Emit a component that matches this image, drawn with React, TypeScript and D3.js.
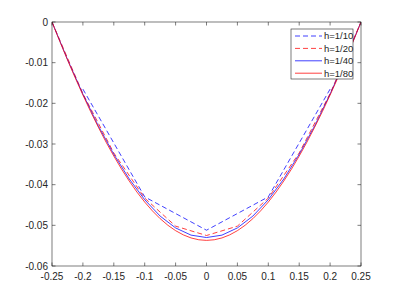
import * as d3 from 'd3'

const W = 399
const H = 299
const M = { top: 22, right: 38, bottom: 33, left: 52 }

// grid points for each mesh
const x10 = [-0.2, -0.1, 0, 0.1, 0.2]
const y10 = [-0.0165, -0.043, -0.0512, -0.043, -0.0165]

const x20 = [-0.25, -0.2, -0.15, -0.1, -0.05, 0, 0.05, 0.1, 0.15, 0.2, 0.25]
const y20 = [0, -0.0176, -0.0322, -0.0433, -0.0502, -0.0525, -0.0502, -0.0433, -0.0322, -0.0176, 0]

const x40 = [-0.25, -0.225, -0.2, -0.175, -0.15, -0.125, -0.1, -0.075, -0.05, -0.025, 0,
  0.025, 0.05, 0.075, 0.1, 0.125, 0.15, 0.175, 0.2, 0.225, 0.25]
const y40 = [0, -0.00918, -0.01773, -0.02555, -0.03254, -0.03861, -0.0437, -0.04773, -0.05064, -0.05241, -0.053,
  -0.05241, -0.05064, -0.04773, -0.0437, -0.03861, -0.03254, -0.02555, -0.01773, -0.00918, 0]

const x80 = [-0.25, -0.2375, -0.225, -0.2125, -0.2, -0.1875, -0.175, -0.1625, -0.15, -0.1375,
  -0.125, -0.1125, -0.1, -0.0875, -0.075, -0.0625, -0.05, -0.0375, -0.025, -0.0125, 0,
  0.0125, 0.025, 0.0375, 0.05, 0.0625, 0.075, 0.0875, 0.1, 0.1125, 0.125,
  0.1375, 0.15, 0.1625, 0.175, 0.1875, 0.2, 0.2125, 0.225, 0.2375, 0.25]
const y80 = [0, -0.00472, -0.0093, -0.01372, -0.01796, -0.02202, -0.02588, -0.02954, -0.03297, -0.03617,
  -0.03912, -0.04183, -0.04428, -0.04645, -0.04836, -0.04998, -0.05131, -0.05235, -0.0531, -0.05355, -0.0537,
  -0.05355, -0.0531, -0.05235, -0.05131, -0.04998, -0.04836, -0.04645, -0.04428, -0.04183, -0.03912,
  -0.03617, -0.03297, -0.02954, -0.02588, -0.02202, -0.01796, -0.01372, -0.0093, -0.00472, 0]

const xTicks = [-0.25, -0.2, -0.15, -0.1, -0.05, 0, 0.05, 0.1, 0.15, 0.2, 0.25]
const xTickLabels = ['-0.25', '-0.2', '-0.15', '-0.1', '-0.05', '0', '0.05', '0.1', '0.15', '0.2', '0.25']
const yTicks = [0, -0.01, -0.02, -0.03, -0.04, -0.05, -0.06]
const yTickLabels = ['0', '-0.01', '-0.02', '-0.03', '-0.04', '-0.05', '-0.06']

const series = [
  { label: 'h=1/10', xs: x10, ys: y10, color: '#0000ff', dash: '5,3' },
  { label: 'h=1/20', xs: x20, ys: y20, color: '#ff0000', dash: '5,3' },
  { label: 'h=1/40', xs: x40, ys: y40, color: '#0000ff', dash: undefined },
  { label: 'h=1/80', xs: x80, ys: y80, color: '#ff0000', dash: undefined },
]

const AX = '#262626'
const FONT = 'Liberation Sans, Arial, sans-serif'

export default function App() {
  const x = d3.scaleLinear().domain([-0.25, 0.25]).range([M.left, W - M.right])
  const y = d3.scaleLinear().domain([-0.06, 0]).range([H - M.bottom, M.top])
  const line = d3.line<[number, number]>().x(d => x(d[0])).y(d => y(d[1]))

  const x0 = x(-0.25), x1 = x(0.25), yTop = y(0), yBot = y(-0.06)
  const tl = 3.5

  // legend box
  const lg = { x: 291, y: 29, w: 62, h: 50 }
  const rowH = 12.4

  return (
    <svg width={W} height={H} style={{ position: 'absolute', left: 0, top: 0, background: '#fff' }}
      fontFamily={FONT}>
      <rect x={0} y={0} width={W} height={H} fill="#fff" />
      <defs>
        <clipPath id="plot-clip">
          <rect x={x0} y={yTop} width={x1 - x0} height={yBot - yTop} />
        </clipPath>
      </defs>

      {/* data */}
      <g clipPath="url(#plot-clip)">
        {series.map(s => (
          <path key={s.label}
            d={line(s.xs.map((v, i) => [v, s.ys[i]] as [number, number])) || ''}
            fill="none" stroke={s.color} strokeWidth={0.75}
            strokeDasharray={s.dash} />
        ))}
      </g>

      {/* box */}
      <rect x={x0} y={yTop} width={x1 - x0} height={yBot - yTop} fill="none" stroke={AX} strokeWidth={0.6} />

      {/* x ticks */}
      {xTicks.map((t, i) => (
        <g key={'x' + i}>
          <line x1={x(t)} x2={x(t)} y1={yBot} y2={yBot - tl} stroke={AX} strokeWidth={0.6} />
          <line x1={x(t)} x2={x(t)} y1={yTop} y2={yTop + tl} stroke={AX} strokeWidth={0.6} />
          <text x={x(t)} y={yBot + 14} textAnchor="middle" fontSize={10} fill={AX}>{xTickLabels[i]}</text>
        </g>
      ))}

      {/* y ticks */}
      {yTicks.map((t, i) => (
        <g key={'y' + i}>
          <line x1={x0} x2={x0 + tl} y1={y(t)} y2={y(t)} stroke={AX} strokeWidth={0.6} />
          <line x1={x1} x2={x1 - tl} y1={y(t)} y2={y(t)} stroke={AX} strokeWidth={0.6} />
          <text x={x0 - 4} y={y(t) + 3.5} textAnchor="end" fontSize={10} fill={AX}>{yTickLabels[i]}</text>
        </g>
      ))}

      {/* legend */}
      <rect x={lg.x} y={lg.y} width={lg.w} height={lg.h} fill="#fff" stroke={AX} strokeWidth={0.6} />
      {series.map((s, i) => {
        const ry = lg.y + 7 + i * rowH
        return (
          <g key={'lg' + i}>
            <line x1={lg.x + 4} x2={lg.x + 31} y1={ry} y2={ry} stroke={s.color} strokeWidth={0.75}
              strokeDasharray={s.dash} />
            <text x={lg.x + 33} y={ry + 3.3} fontSize={9.5} fill={AX}>{s.label}</text>
          </g>
        )
      })}
    </svg>
  )
}
